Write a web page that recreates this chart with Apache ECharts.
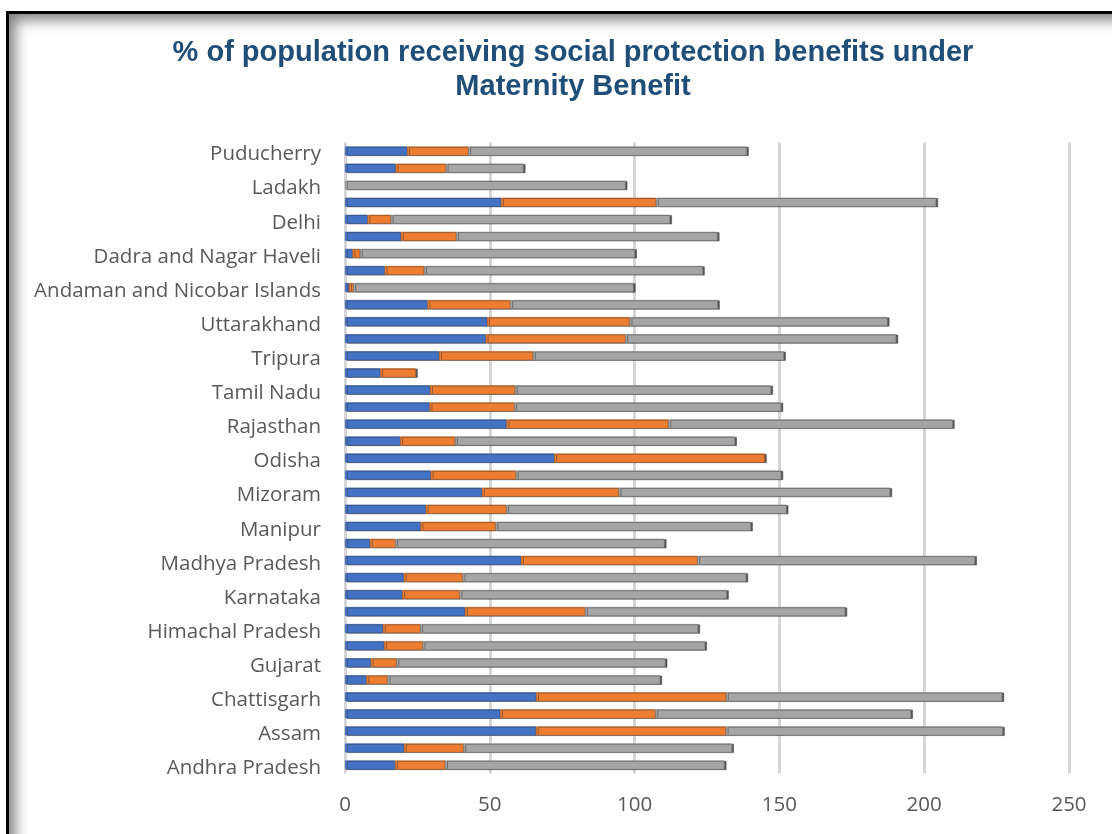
<!DOCTYPE html>
<html>
<head>
<meta charset="utf-8">
<script src="https://cdn.jsdelivr.net/npm/echarts@6/dist/echarts.min.js"></script>
<style>
  html, body { margin: 0; padding: 0; background: #fff; overflow: hidden; }
  #chart { position: absolute; left: 0; top: 0; width: 1112px; height: 834px; }
  #frame {
    position: absolute; left: 6px; top: 11px; width: 1200px; height: 900px;
    border-left: 3px solid #000; border-top: 3px solid #000;
    box-shadow: inset 10px 10px 14px -4px rgba(0,0,0,0.5);
    pointer-events: none;
  }
</style>
</head>
<body>
<div id="chart"></div>
<div id="frame"></div>
<script>
// States and union territories, listed bottom to top
const categories = [
  'Andhra Pradesh', 'Arunachal Pradesh', 'Assam', 'Bihar', 'Chattisgarh', 'Goa',
  'Gujarat', 'Haryana', 'Himachal Pradesh', 'Jharkhand', 'Karnataka', 'Kerala',
  'Madhya Pradesh', 'Maharashtra', 'Manipur', 'Meghalaya', 'Mizoram', 'Nagaland',
  'Odisha', 'Punjab', 'Rajasthan', 'Sikkim', 'Tamil Nadu', 'Telangana', 'Tripura',
  'Uttar Pradesh', 'Uttarakhand', 'West Bengal', 'Andaman and Nicobar Islands',
  'Chandigarh', 'Dadra and Nagar Haveli', 'Daman and Diu', 'Delhi',
  'Jammu and Kashmir', 'Ladakh', 'Lakshadweep', 'Puducherry'
];

// Stacked segments (per cent)
const seriesBlue = [
  17.3, 20.4, 65.9, 53.6, 66.0, 7.4, 8.9, 13.5, 13.1, 41.4, 19.8, 20.3,
  60.8, 8.6, 26.1, 27.9, 47.3, 29.6, 72.3, 19.1, 55.8, 29.2, 29.4, 12.2,
  32.5, 48.6, 49.1, 28.5, 1.4, 13.7, 2.6, 19.3, 7.8, 53.9, 0, 17.5, 21.5
];
const seriesOrange = [
  17.3, 20.5, 65.6, 53.6, 65.6, 7.3, 8.9, 13.3, 12.9, 41.5, 19.8, 20.3,
  60.9, 8.8, 25.9, 27.8, 47.2, 29.4, 72.6, 18.9, 55.9, 29.3, 29.3, 12.2,
  32.4, 48.2, 49.2, 28.6, 1.5, 13.6, 2.6, 19.1, 8.0, 53.5, 0, 17.3, 21.1
];
const seriesGray = [
  96.4, 92.7, 95.6, 88.2, 95.3, 94.1, 92.8, 97.5, 95.9, 89.8, 92.2, 97.9,
  95.8, 92.9, 88.1, 96.7, 93.7, 91.6, 0, 96.6, 98.1, 92.1, 88.4, 0,
  86.6, 93.5, 89.0, 71.6, 96.7, 96.2, 94.9, 90.2, 96.4, 96.7, 96.8, 26.8, 96.1
];

const xTicks = [0, 50, 100, 150, 200, 250];

const chart = echarts.init(document.getElementById('chart'), null, { renderer: 'canvas' });

// Empty segments are left undrawn so no edge or shadow shows for them
const segs = arr => arr.map(v => (v === 0 ? '-' : v));

function barStyle(color, edge) {
  return {
    color: color,
    borderColor: edge,
    borderWidth: 0.6,
    shadowColor: 'rgba(60,60,60,0.85)',
    shadowOffsetX: 2,
    shadowOffsetY: 0.5,
    shadowBlur: 0
  };
}

const labelFont = 'Open Sans, sans-serif';

chart.setOption({
  animation: false,
  backgroundColor: '#ffffff',
  title: {
    text: '% of population receiving social protection benefits under\nMaternity Benefit',
    left: 568,
    top: 31,
    textAlign: 'center',
    textStyle: {
      fontFamily: 'Liberation Sans, Arial, sans-serif',
      fontWeight: 'bold',
      fontSize: 29,
      lineHeight: 34,
      color: '#1F4E79'
    }
  },
  grid: { left: 345, right: 43, top: 142.5, bottom: 60.5, containLabel: false },
  xAxis: {
    type: 'value',
    min: xTicks[0],
    max: xTicks[xTicks.length - 1],
    interval: xTicks[1] - xTicks[0],
    axisLine: { show: false },
    axisTick: { show: false },
    axisLabel: {
      margin: 21,
      fontFamily: labelFont,
      fontSize: 20.5,
      color: '#595959'
    },
    splitLine: { show: true, lineStyle: { color: '#D6D6D6', width: 3 } }
  },
  yAxis: {
    type: 'category',
    data: categories,
    axisLine: { show: false },
    axisTick: { show: false },
    axisLabel: {
      interval: 1,
      margin: 24,
      formatter: v => '{n|' + v + '}',
      rich: {
        n: {
          padding: [7, 0, 0, 0],
          fontFamily: labelFont,
          fontSize: 20.5,
          color: '#595959'
        }
      }
    },
    splitLine: { show: false }
  },
  series: [
    { type: 'bar', stack: 'total', barWidth: 9, data: segs(seriesBlue),
      itemStyle: barStyle('#4472C4', '#3a62ab') },
    { type: 'bar', stack: 'total', barWidth: 9, data: segs(seriesOrange),
      itemStyle: barStyle('#ED7D31', '#c96a29') },
    { type: 'bar', stack: 'total', barWidth: 9, data: segs(seriesGray),
      itemStyle: barStyle('#A5A5A5', '#8a8a8a') }
  ]
});
</script>
</body>
</html>
